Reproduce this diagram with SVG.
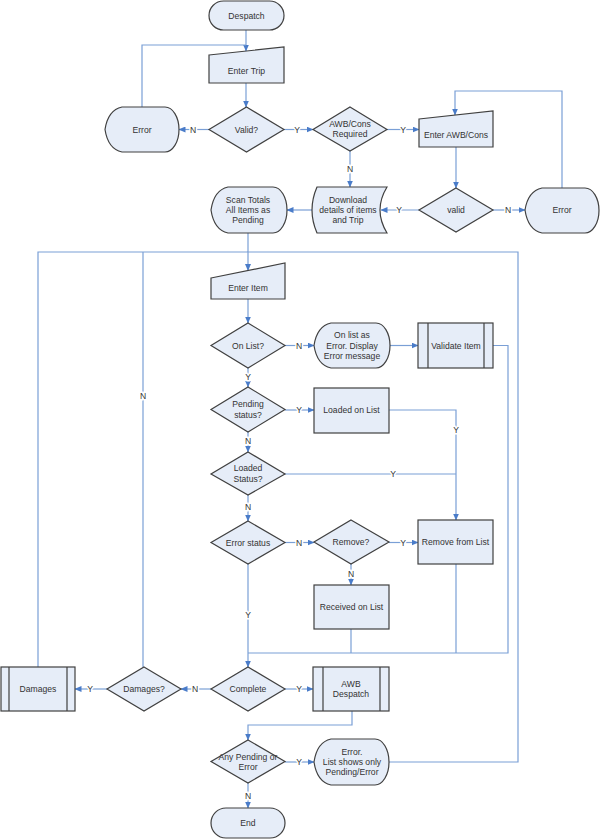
<svg xmlns="http://www.w3.org/2000/svg" width="600" height="839" viewBox="0 0 600 839">
<defs>
<marker id="ah" markerWidth="7" markerHeight="6" refX="6.5" refY="3" orient="auto" markerUnits="userSpaceOnUse">
<path d="M0,0 L7,3 L0,6 Z" fill="#4a7cc9"/>
</marker>
<style>
.n{fill:#e6edf8;stroke:#404040;stroke-width:1.2}
.il{stroke:#404040;stroke-width:1.2;fill:none}
.t{font-family:"Liberation Sans",Arial,sans-serif;font-size:8.6px;fill:#333;text-anchor:middle;dominant-baseline:central}
.c{fill:none;stroke:#7a9fd6;stroke-width:1.2}
.a{marker-end:url(#ah)}
.l{font-family:"Liberation Sans",Arial,sans-serif;font-size:8.6px;fill:#333;text-anchor:middle;dominant-baseline:central;stroke:#fff;stroke-width:3;paint-order:stroke}
</style>
</defs>
<rect width="600" height="839" fill="#fff"/>

<g id="connectors">
<path class="c a" d="M246,30 V51"/>
<path class="c" d="M142,107 V45 H246"/>
<path class="c a" d="M246,83 V107"/>
<path class="c a" d="M209,129.5 H179"/>
<path class="c a" d="M284,129.5 H313"/>
<path class="c a" d="M387,129.5 H419"/>
<path class="c a" d="M350,151 V187"/>
<path class="c a" d="M456,147 V188"/>
<path class="c a" d="M493,210 H525"/>
<path class="c a" d="M562,188 V91 H455 V115"/>
<path class="c a" d="M419,210 H381"/>
<path class="c a" d="M312,210 H287"/>
<path class="c" d="M248,233 V252"/>
<path class="c a" d="M389,762 H518 V252 H248 V270.5"/>
<path class="c" d="M38,667 V252 H248"/>
<path class="c" d="M143,667 V252"/>
<path class="c a" d="M248,299 V323"/>
<path class="c a" d="M285,345.5 H314"/>
<path class="c a" d="M390,345.5 H418"/>
<path class="c" d="M493,345.5 H508 V653 H248"/>
<path class="c a" d="M248,368 V387"/>
<path class="c a" d="M285,410 H314"/>
<path class="c a" d="M389,410 H456 V520"/>
<path class="c a" d="M248,432 V452"/>
<path class="c" d="M285,474 H456"/>
<path class="c a" d="M248,495 V521"/>
<path class="c a" d="M285,542.5 H314"/>
<path class="c a" d="M389,542.5 H418"/>
<path class="c a" d="M351,564 V585"/>
<path class="c" d="M351,629 V653"/>
<path class="c" d="M456,564 V653"/>
<path class="c a" d="M248,564 V667"/>
<path class="c a" d="M211,689 H181"/>
<path class="c a" d="M107,689 H75"/>
<path class="c a" d="M285,689 H313"/>
<path class="c a" d="M352,711 V725 H248 V740"/>
<path class="c a" d="M285,762 H314"/>
<path class="c a" d="M248,783 V808"/>
</g>

<g id="labels">
<text class="l" x="193" y="129.5">N</text>
<text class="l" x="297" y="129.5">Y</text>
<text class="l" x="403" y="129.5">Y</text>
<text class="l" x="350" y="169">N</text>
<text class="l" x="508" y="210">N</text>
<text class="l" x="399" y="210">Y</text>
<text class="l" x="143" y="396">N</text>
<text class="l" x="299" y="345.5">N</text>
<text class="l" x="248" y="377">Y</text>
<text class="l" x="299" y="410">Y</text>
<text class="l" x="456" y="430">Y</text>
<text class="l" x="248" y="441">N</text>
<text class="l" x="393" y="474">Y</text>
<text class="l" x="248" y="507">N</text>
<text class="l" x="299" y="542.5">N</text>
<text class="l" x="403" y="542.5">Y</text>
<text class="l" x="351" y="574">N</text>
<text class="l" x="248" y="615">Y</text>
<text class="l" x="195" y="689">N</text>
<text class="l" x="90" y="689">Y</text>
<text class="l" x="299" y="689">Y</text>
<text class="l" x="299" y="762">Y</text>
<text class="l" x="248" y="796">N</text>
</g>

<g id="despatch"><rect class="n" x="209" y="1" width="75" height="29" rx="14.5"/><text class="t" x="246.5" y="15.5">Despatch</text></g>
<g id="enter-trip"><path class="n" d="M209,55 L284,47 L284,83 L209,83 Z"/><text class="t" x="246.5" y="71">Enter Trip</text></g>
<g id="valid1"><path class="n" d="M246.5,107 L284,129.5 L246.5,152 L209,129.5 Z"/><text class="t" x="246.5" y="129.5">Valid?</text></g>
<g id="error1"><path class="n" d="M105,129.5 Q108,110 122,107 L165,107 A14,22.5 0 0 1 165,152 L122,152 Q108,149 105,129.5 Z"/><text class="t" x="142" y="129.5">Error</text></g>
<g id="awb-required"><path class="n" d="M350,107 L387,129.5 L350,151 L313,129.5 Z"/><text class="t" x="350" y="124">AWB/Cons</text><text class="t" x="350" y="134">Required</text></g>
<g id="enter-awb"><path class="n" d="M419,119 L493,111 L493,147 L419,147 Z"/><text class="t" x="456" y="135">Enter AWB/Cons</text></g>
<g id="valid2"><path class="n" d="M456,188 L493,210 L456,232 L419,210 Z"/><text class="t" x="456" y="210">valid</text></g>
<g id="error2"><path class="n" d="M525,210 Q528,191 542,188 L585,188 A14,22.5 0 0 1 585,233 L542,233 Q528,230 525,210 Z"/><text class="t" x="562" y="210">Error</text></g>
<g id="download"><path class="n" d="M317,187 L387,187 Q373,210 387,233 L317,233 Q307,210 317,187 Z"/><text class="t" x="348" y="200">Download</text><text class="t" x="348" y="210">details of items</text><text class="t" x="348" y="220">and Trip</text></g>
<g id="scan-totals"><path class="n" d="M211,210 Q214,190 228,187 L273,187 A14,23 0 0 1 273,233 L228,233 Q214,230 211,210 Z"/><text class="t" x="248" y="200">Scan Totals</text><text class="t" x="248" y="210">All Items as</text><text class="t" x="248" y="220">Pending</text></g>
<g id="enter-item"><path class="n" d="M211,278 L285,263 L285,299 L211,299 Z"/><text class="t" x="248" y="288">Enter Item</text></g>
<g id="on-list"><path class="n" d="M248,323 L285,345.5 L248,368 L211,345.5 Z"/><text class="t" x="248" y="345.5">On List?</text></g>
<g id="on-list-error"><path class="n" d="M314,345.5 Q317,326 331,323 L376,323 A14,22.5 0 0 1 376,368 L331,368 Q317,365 314,345.5 Z"/><text class="t" x="352" y="335">On list as</text><text class="t" x="352" y="345.5">Error. Display</text><text class="t" x="352" y="355.5">Error message</text></g>
<g id="validate-item"><rect class="n" x="418" y="323" width="75" height="45"/><path class="il" d="M428,323 V368 M484,323 V368"/><text class="t" x="456" y="345.5">Validate Item</text></g>
<g id="pending"><path class="n" d="M248,387 L285,409.5 L248,432 L211,409.5 Z"/><text class="t" x="248" y="404">Pending</text><text class="t" x="248" y="414.5">status?</text></g>
<g id="loaded-on-list"><rect class="n" x="314" y="388" width="75" height="45"/><text class="t" x="351.5" y="410">Loaded on List</text></g>
<g id="loaded-status"><path class="n" d="M248,452 L285,474 L248,495 L211,474 Z"/><text class="t" x="248" y="468">Loaded</text><text class="t" x="248" y="478.5">Status?</text></g>
<g id="error-status"><path class="n" d="M248,521 L285,542.5 L248,564 L211,542.5 Z"/><text class="t" x="248" y="542.5">Error status</text></g>
<g id="remove"><path class="n" d="M351,520 L389,542 L351,564 L314,542 Z"/><text class="t" x="351" y="542">Remove?</text></g>
<g id="remove-from-list"><rect class="n" x="418" y="520" width="75" height="44"/><text class="t" x="455.5" y="542">Remove from List</text></g>
<g id="received-on-list"><rect class="n" x="314" y="585" width="75" height="44"/><text class="t" x="351.5" y="607">Received on List</text></g>
<g id="damages"><rect class="n" x="1" y="667" width="74" height="44"/><path class="il" d="M9,667 V711 M67,667 V711"/><text class="t" x="38" y="689">Damages</text></g>
<g id="damages-q"><path class="n" d="M144,667 L181,689 L144,711 L107,689 Z"/><text class="t" x="144" y="689">Damages?</text></g>
<g id="complete"><path class="n" d="M248,667 L285,689 L248,711 L211,689 Z"/><text class="t" x="248" y="689">Complete</text></g>
<g id="awb-despatch"><rect class="n" x="313" y="667" width="76" height="44"/><path class="il" d="M323,667 V711 M380,667 V711"/><text class="t" x="351" y="684">AWB</text><text class="t" x="351" y="694">Despatch</text></g>
<g id="any-pending"><path class="n" d="M248,740 L285,761.5 L248,783 L211,761.5 Z"/><text class="t" x="248" y="756.5">Any Pending or</text><text class="t" x="248" y="766.5">Error</text></g>
<g id="error3"><path class="n" d="M314,762 Q317,742 331,739 L375,739 A14,23 0 0 1 375,785 L331,785 Q317,782 314,762 Z"/><text class="t" x="352" y="752">Error.</text><text class="t" x="352" y="762">List shows only</text><text class="t" x="352" y="772">Pending/Error</text></g>
<g id="end"><rect class="n" x="211" y="808" width="74" height="30" rx="15"/><text class="t" x="248" y="823">End</text></g>
</svg>
